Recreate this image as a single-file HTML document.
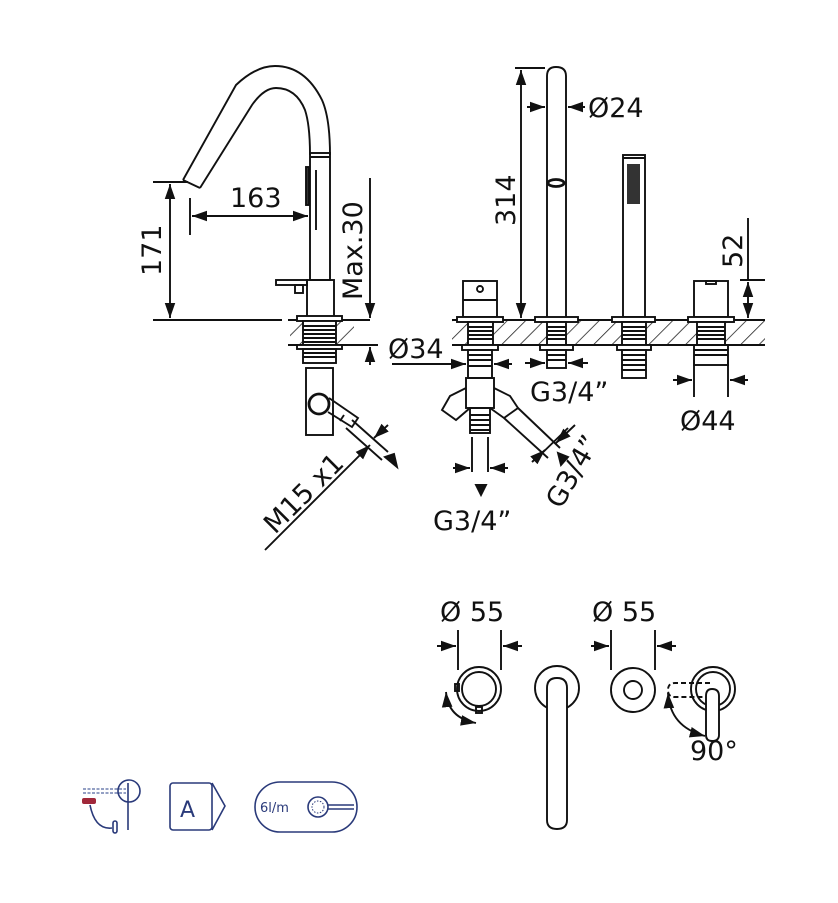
<!DOCTYPE html>
<html><head><meta charset="utf-8"><style>
html,body{margin:0;padding:0;background:#fff}
svg{display:block}
text{font-family:"DejaVu Sans","Liberation Sans",sans-serif;fill:#111}
</style></head><body>
<svg width="838" height="903" viewBox="0 0 838 903" xmlns="http://www.w3.org/2000/svg">
<defs>
<marker id="a" viewBox="0 0 10 10" refX="10" refY="5" markerWidth="8" markerHeight="8" orient="auto-start-reverse"><path d="M0,1.5L10,5L0,8.5z" fill="#111"/></marker>
<pattern id="h" width="13" height="13" patternUnits="userSpaceOnUse" patternTransform="rotate(45)"><line x1="0" y1="0" x2="0" y2="13" stroke="#222" stroke-width="1.6"/></pattern>
</defs>
<g fill="none" stroke="#111" stroke-width="1.9">
<!-- LEFT MIXER -->
<path d="M183,180 L236,85 Q256,66 275,66 Q305,66 322,100 Q330,118 330,155"/>
<path d="M200,188 L252,105 Q264,88 276,88 Q296,88 305,110 Q310,125 310,155"/>
<line x1="183" y1="180" x2="200" y2="188"/>
<rect x="310" y="153" width="20" height="127"/>
<line x1="310" y1="157" x2="330" y2="157"/>
<rect x="306" y="167" width="3" height="38" fill="#333"/>
<line x1="316" y1="170" x2="316" y2="230"/>
<rect x="307" y="280" width="27" height="38"/>
<rect x="276" y="280" width="31" height="5"/>
<rect x="295" y="285" width="8" height="8"/>
<line x1="153" y1="320" x2="282" y2="320"/>
<rect x="290" y="320" width="64" height="25" fill="url(#h)" stroke="none"/>
<line x1="288" y1="320" x2="370" y2="320"/><line x1="288" y1="345" x2="370" y2="345"/>
<rect x="297" y="316" width="45" height="5" fill="#fff"/>
<rect x="303" y="321" width="33" height="24" fill="#fff"/>
<path d="M303,326h33M303,330h33M303,334h33M303,338h33M303,342h33"/>
<rect x="297" y="345" width="45" height="4" fill="#fff"/>
<rect x="303" y="349" width="33" height="14"/>
<path d="M303,353h33M303,357h33"/>
<rect x="306" y="368" width="27" height="67"/>
<circle cx="319" cy="404" r="10" stroke-width="2.8"/>
<path d="M329,398 L358,418 L352,427 L328,412"/>
<line x1="344" y1="415" x2="340" y2="421"/>
<!-- dims left -->
<line x1="153" y1="182" x2="188" y2="182"/>
<line x1="170" y1="184" x2="170" y2="318" marker-start="url(#a)" marker-end="url(#a)"/>
<line x1="190" y1="198" x2="190" y2="235"/>
<line x1="192" y1="216" x2="308" y2="216" marker-start="url(#a)" marker-end="url(#a)"/>
<line x1="370" y1="178" x2="370" y2="318" marker-end="url(#a)"/>
<line x1="370" y1="347" x2="370" y2="365" marker-start="url(#a)"/>
<line x1="358" y1="345" x2="378" y2="345"/>
<!-- M15 dim -->
<line x1="265" y1="550" x2="370" y2="445" marker-end="url(#a)"/>
<line x1="346" y1="428" x2="382" y2="460"/>
<line x1="352" y1="420" x2="388" y2="452"/>
<line x1="388" y1="425" x2="374" y2="438" marker-end="url(#a)"/>
<path d="M385,457 l12,10 l-3,-13z" fill="#111"/>
<!-- RIGHT deck -->
<rect x="452" y="320" width="313" height="25" fill="url(#h)" stroke="none"/>
<line x1="452" y1="320" x2="765" y2="320"/><line x1="452" y1="345" x2="765" y2="345"/>
<!-- col1 -->
<rect x="463" y="281" width="34" height="36" fill="#fff"/>
<line x1="463" y1="300" x2="497" y2="300"/>
<circle cx="480" cy="289" r="3"/>
<rect x="457" y="317" width="46" height="5" fill="#fff"/>
<rect x="468" y="322" width="25" height="23" fill="#fff"/>
<path d="M468,327h25M468,331h25M468,335h25M468,339h25"/>
<rect x="462" y="345" width="36" height="5" fill="#fff"/>
<rect x="468" y="350" width="24" height="28"/>
<path d="M468,355h24M468,360h24M468,366h24"/>
<rect x="466" y="378" width="28" height="30"/>
<path d="M466,388 L450,396 L442,410 L456,420 L470,408"/>
<path d="M494,388 L510,396 L518,408 L504,418 L490,408"/>
<path d="M504,418 L548,458 M518,408 L560,448"/>
<rect x="470" y="408" width="20" height="25"/>
<path d="M470,415h20M470,420h20M470,425h20M470,430h20"/>
<!-- col2 -->
<path d="M547,318 V76 Q547,67 556,67 Q566,67 566,76 V318"/>
<ellipse cx="556" cy="183" rx="8" ry="3.5" stroke-width="2.8"/>
<rect x="535" y="317" width="43" height="5" fill="#fff"/>
<rect x="547" y="322" width="19" height="23" fill="#fff"/>
<path d="M547,327h19M547,331h19M547,335h19M547,339h19"/>
<rect x="540" y="345" width="33" height="5" fill="#fff"/>
<rect x="547" y="350" width="19" height="18"/>
<path d="M547,355h19M547,360h19"/>
<!-- col3 handshower -->
<rect x="623" y="155" width="22" height="162"/>
<line x1="623" y1="158" x2="645" y2="158"/>
<rect x="627" y="164" width="13" height="40" fill="#333" stroke="none"/>
<rect x="612" y="317" width="43" height="5" fill="#fff"/>
<rect x="622" y="322" width="24" height="23" fill="#fff"/>
<path d="M622,327h24M622,331h24M622,335h24M622,339h24"/>
<rect x="617" y="345" width="34" height="5" fill="#fff"/>
<rect x="622" y="350" width="24" height="28"/>
<path d="M622,355h24M622,360h24M622,365h24M622,370h24"/>
<!-- col4 -->
<rect x="694" y="281" width="34" height="36" fill="#fff"/>
<rect x="706" y="281" width="10" height="3"/>
<rect x="688" y="317" width="46" height="5" fill="#fff"/>
<rect x="697" y="322" width="28" height="23" fill="#fff"/>
<path d="M697,327h28M697,331h28M697,335h28M697,339h28"/>
<rect x="694" y="345" width="34" height="20"/>
<path d="M694,350h34M694,355h34"/>
<!-- dims right -->
<line x1="515" y1="68" x2="545" y2="68"/>
<line x1="521" y1="70" x2="521" y2="318" marker-start="url(#a)" marker-end="url(#a)"/>
<line x1="527" y1="107" x2="545" y2="107" marker-end="url(#a)"/>
<line x1="585" y1="107" x2="568" y2="107" marker-end="url(#a)"/>
<line x1="740" y1="280" x2="765" y2="280"/>
<line x1="748" y1="218" x2="748" y2="280"/>
<line x1="748" y1="282" x2="748" y2="318" marker-start="url(#a)" marker-end="url(#a)"/>
<line x1="392" y1="364" x2="466" y2="364" marker-end="url(#a)"/>
<line x1="512" y1="364" x2="494" y2="364" marker-end="url(#a)"/>
<line x1="525" y1="363" x2="545" y2="363" marker-end="url(#a)"/>
<line x1="588" y1="363" x2="568" y2="363" marker-end="url(#a)"/>
<line x1="694" y1="360" x2="694" y2="397"/><line x1="728" y1="360" x2="728" y2="397"/>
<line x1="673" y1="380" x2="692" y2="380" marker-end="url(#a)"/>
<line x1="748" y1="380" x2="730" y2="380" marker-end="url(#a)"/>
<line x1="472" y1="437" x2="472" y2="472"/><line x1="488" y1="437" x2="488" y2="472"/>
<line x1="453" y1="468" x2="470" y2="468" marker-end="url(#a)"/>
<line x1="508" y1="468" x2="490" y2="468" marker-end="url(#a)"/>
<path d="M476,485 h10 l-5,10z" fill="#111"/>
<line x1="535" y1="460" x2="568" y2="428"/>
<line x1="575" y1="425" x2="556" y2="443" marker-end="url(#a)"/>
<line x1="532" y1="462" x2="545" y2="450" marker-end="url(#a)"/>
<path d="M558,453 l10,4 l-7,8z" fill="#111"/>
<!-- BOTTOM -->
<line x1="458" y1="630" x2="458" y2="670"/><line x1="501" y1="630" x2="501" y2="670"/>
<line x1="437" y1="646" x2="456" y2="646" marker-end="url(#a)"/>
<line x1="522" y1="646" x2="503" y2="646" marker-end="url(#a)"/>
<circle cx="479" cy="689" r="22"/><circle cx="479" cy="689" r="17"/>
<rect x="455" y="684" width="4" height="7"/><rect x="476" y="707" width="6" height="6"/>
<path d="M446,692 Q448,718 476,723" marker-start="url(#a)" marker-end="url(#a)"/>
<circle cx="557" cy="688" r="22"/>
<path d="M547,820 V688 Q547,678 557,678 Q567,678 567,688 V820 Q567,829 557,829 Q547,829 547,820z" fill="#fff"/>
<line x1="611" y1="630" x2="611" y2="670"/><line x1="655" y1="630" x2="655" y2="670"/>
<line x1="591" y1="646" x2="609" y2="646" marker-end="url(#a)"/>
<line x1="676" y1="646" x2="657" y2="646" marker-end="url(#a)"/>
<circle cx="633" cy="690" r="22"/><circle cx="633" cy="690" r="9"/>
<circle cx="713" cy="689" r="22"/><circle cx="713" cy="689" r="17"/>
<path d="M710,683 H675 Q668,683 668,690 Q668,697 675,697 H710" stroke-dasharray="5,3"/>
<path d="M706,735 V696 Q706,689 712,689 Q719,689 719,696 V735 Q719,741 712,741 Q706,741 706,735z" fill="#fff"/>
<path d="M668,693 Q670,727 705,736" marker-start="url(#a)" marker-end="url(#a)"/>
</g>
<!-- labels -->
<text x="230" y="207" font-size="27">163</text>
<text transform="translate(161,276) rotate(-90)" font-size="27">171</text>
<text transform="translate(362,300) rotate(-90)" font-size="27">Max.30</text>
<text x="388" y="358" font-size="27">Ø34</text>
<text transform="translate(275,535) rotate(-45)" font-size="27">M15 x1</text>
<text transform="translate(515,226) rotate(-90)" font-size="27">314</text>
<text x="588" y="117" font-size="27">Ø24</text>
<text transform="translate(742,268) rotate(-90)" font-size="27">52</text>
<text x="530" y="401" font-size="27">G3/4”</text>
<text x="680" y="430" font-size="27">Ø44</text>
<text x="433" y="530" font-size="27">G3/4”</text>
<text transform="translate(561,510) rotate(-60)" font-size="27">G3/4”</text>
<text x="440" y="621" font-size="27">Ø 55</text>
<text x="592" y="621" font-size="27">Ø 55</text>
<text x="690" y="760" font-size="27">90°</text>
<!-- icons -->
<g fill="none" stroke="#2a3a7a" stroke-width="1.6">
<line x1="83" y1="789" x2="126" y2="789" stroke-dasharray="3,1.5" stroke="#7080b0"/>
<line x1="83" y1="793" x2="126" y2="793" stroke-dasharray="3,1.5" stroke="#7080b0"/>
<circle cx="129" cy="791" r="11"/>
<line x1="128" y1="783" x2="128" y2="830"/>
<path d="M90,805 Q95,830 112,828"/>
<rect x="113" y="821" width="4" height="12" rx="2"/>
<rect x="170" y="783" width="42" height="47" rx="3"/>
<path d="M212,783 L225,806 L212,830"/>
<rect x="255" y="782" width="102" height="50" rx="25"/>
<circle cx="318" cy="807" r="10"/>
<line x1="328" y1="805" x2="354" y2="805"/><line x1="328" y1="809" x2="354" y2="809"/>
</g>
<rect x="82" y="798" width="14" height="6" rx="2" fill="#a0283a"/>
<circle cx="318" cy="807" r="6" fill="none" stroke="#2a3a7a" stroke-width="1" stroke-dasharray="1.5,1.5"/>
<text x="180" y="817" font-size="22" style="fill:#2a3a7a">A</text>
<text x="260" y="812" font-size="13" style="fill:#2a3a7a">6l/m</text>
</svg>
</body></html>
